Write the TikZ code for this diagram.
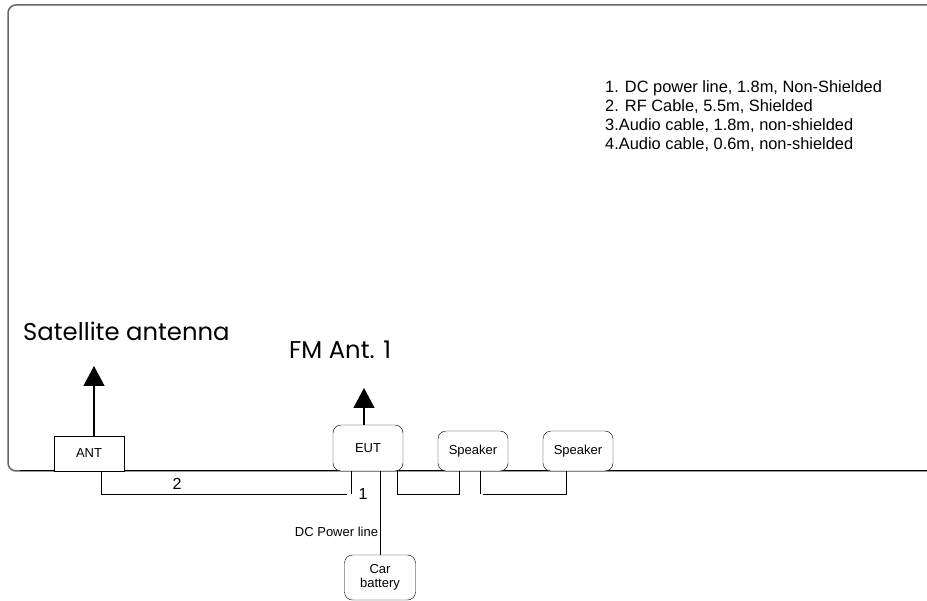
\documentclass[tikz,border=0pt]{standalone}
\usepackage{fontspec}
\setmainfont{Liberation Sans}
\newfontfamily\gothic{Poppins}
\usepackage{tikz}
\usetikzlibrary{arrows.meta,positioning}

\begin{document}
\begin{tikzpicture}[
  x=1pt, y=-1pt, font=\fontsize{13}{14}\selectfont,
  box/.style={draw, minimum width=70pt, inner sep=0pt, align=center, fill=white},
  rbox/.style={box, rounded corners=8pt},
  cable/.style={draw, line width=0.9pt},
  antarrow/.style={line width=1.4pt, -{Triangle[width=21pt,length=20pt]}},
  heading/.style={anchor=base west, inner sep=0pt, font=\gothic\fontsize{24.3}{28}\selectfont},
  num/.style={inner sep=0pt, font=\fontsize{16}{18}\selectfont}
]
  \useasboundingbox (0,0) rectangle (927,601);

  % outer frame
  \draw[black!60, line width=1.5pt, rounded corners=8pt] (927,5) -- (8,5) -- (8,471) -- (927,471);
  \draw[line width=1pt] (20,471) -- (927,471);

  % legend
  \node[anchor=base west, inner sep=0pt, align=left, font=\fontsize{16.4}{19}\selectfont] (legend) at (605,150)
    {1. DC power line, 1.8m, Non-Shielded\\ 2. RF Cable, 5.5m, Shielded\\ 3.Audio cable, 1.8m, non-shielded\\ 4.Audio cable, 0.6m, non-shielded};

  % equipment
  \node[box, minimum height=35pt] (ant) at (89,453.5) {ANT};
  \node[rbox, minimum height=46pt] (eut) at (368,448) {EUT};
  \node[rbox, minimum height=40pt] (spk1) at (473,451) {Speaker};
  \node[rbox, minimum height=40pt] (spk2) at (578,451) {Speaker};
  \node[rbox, minimum width=71pt, minimum height=45pt, font=\fontsize{13}{14}\selectfont] (batt) at (380,577.5) {Car\\ battery};

  % antennas
  \node[heading] (satlabel) at (23,341) {Satellite antenna};
  \node[heading] (fmlabel) at (289,359) {FM Ant. 1};
  \coordinate (sattip) at (94,366);
  \coordinate (fmtip) at (364,388);
  \draw[antarrow] ([xshift=5pt]ant.north) -- (sattip);
  \draw[antarrow] ([xshift=-4pt]eut.north) -- (fmtip);

  % cables
  \coordinate (rfend) at (347,494);
  \draw[cable] ([xshift=12pt]ant.south) |- (rfend);
  \draw[cable] ([xshift=-17pt]eut.south) -- ++(0,23);
  \node[num] (n2) at (177,484) {2};
  \node[num] (n1) at (363,494) {1};

  \draw[cable] ([xshift=12pt]eut.south) -- node[left, pos=0.72, inner sep=1.5pt] (dclabel) {DC Power line} (batt.north);

  \draw[cable] ([xshift=29pt]eut.south) -- ++(0,23) -| ([xshift=-14pt]spk1.south);

  \coordinate (spkmid) at (483,494);
  \draw[cable] ([xshift=7pt]spk1.south) -- ++(0,23);
  \draw[cable] (spkmid) -| ([xshift=-12pt]spk2.south);
\end{tikzpicture}
\end{document}
